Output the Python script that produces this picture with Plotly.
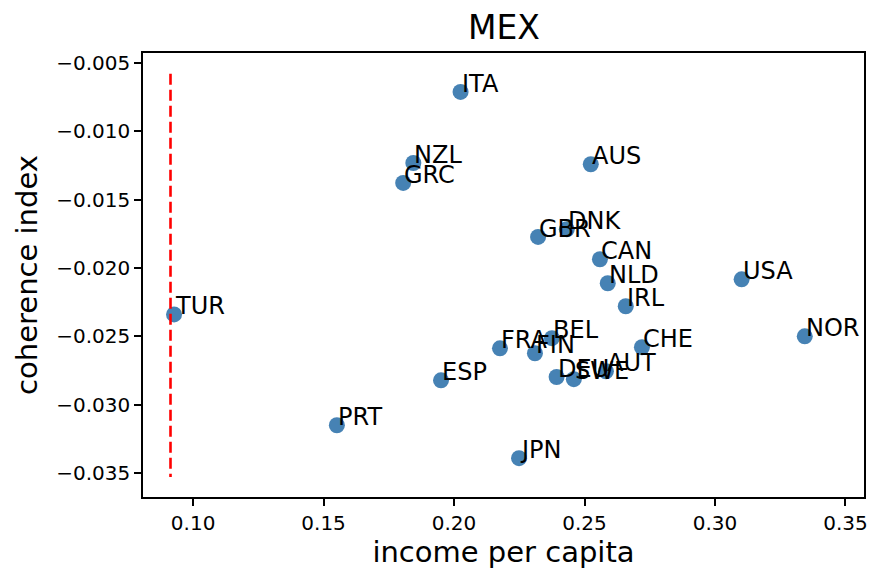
import plotly.graph_objects as go

countries = ["ITA", "NZL", "GRC", "AUS", "DNK", "GBR", "CAN", "NLD", "USA", "IRL", "TUR",
             "NOR", "BEL", "FRA", "FIN", "CHE", "AUT", "DEU", "SWE", "ESP", "PRT", "JPN"]
income = [0.2025, 0.1844, 0.1805, 0.2524, 0.2432, 0.2322, 0.2559, 0.2589, 0.3102, 0.2658, 0.0927,
          0.3344, 0.2375, 0.2176, 0.2310, 0.2720, 0.2582, 0.2393, 0.2459, 0.1950, 0.1551, 0.2249]
coherence = [-0.00712, -0.01232, -0.01378, -0.01241, -0.01717, -0.01773, -0.01936, -0.02112,
             -0.02083, -0.02280, -0.02340, -0.02500, -0.02514, -0.02588, -0.02624, -0.02580,
             -0.02756, -0.02798, -0.02814, -0.02822, -0.03151, -0.03392]
ref_x = 0.09134
ref_y = [-0.00578, -0.03530]
x_ticks = [0.10, 0.15, 0.20, 0.25, 0.30, 0.35]
y_ticks = [-0.005, -0.010, -0.015, -0.020, -0.025, -0.030, -0.035]

FONT = "DejaVu Sans"

fig = go.Figure()
fig.add_trace(go.Scatter(
    x=income, y=coherence, mode="markers",
    marker=dict(size=16, color="#4682B4", line=dict(width=0)),
    hoverinfo="text", text=countries, showlegend=False,
))
fig.add_trace(go.Scatter(
    x=[ref_x, ref_x], y=ref_y, mode="lines",
    line=dict(color="red", width=2.6, dash="11px,5px"), showlegend=False,
))

for c, x, y in zip(countries, income, coherence):
    fig.add_annotation(x=x, y=y, text=c, showarrow=False, xanchor="left", yanchor="bottom",
                       yshift=-8, xshift=-1, font=dict(family=FONT, size=24, color="black"))

fig.add_annotation(text="MEX", xref="paper", yref="paper", x=0.5, y=1, xanchor="center",
                   yanchor="bottom", yshift=4, showarrow=False,
                   font=dict(family=FONT, size=33, color="black"))

axis_common = dict(showgrid=False, zeroline=False, showline=True, linecolor="black",
                   linewidth=1.6, mirror=True, ticks="outside", ticklen=7, tickwidth=1.6,
                   tickcolor="black", tickfont=dict(family=FONT, size=20, color="black"))

fig.update_xaxes(range=[0.0808, 0.3571], tickvals=x_ticks,
                 ticktext=[f"{v:.2f}" for v in x_ticks],
                 title=dict(text="income per capita", font=dict(family=FONT, size=29, color="black"),
                            standoff=8),
                 **axis_common)
fig.update_yaxes(range=[-0.03676, -0.00427], tickvals=y_ticks,
                 ticktext=[f"\u2212{abs(v):.3f}" for v in y_ticks],
                 title=dict(text="coherence index", font=dict(family=FONT, size=29, color="black"),
                            standoff=10),
                 **axis_common)

fig.update_layout(
    width=885, height=584,
    margin=dict(l=143, r=21, t=53, b=87, autoexpand=False),
    plot_bgcolor="white", paper_bgcolor="white",
    font=dict(family=FONT),
)

fig.write_html("out.html")
